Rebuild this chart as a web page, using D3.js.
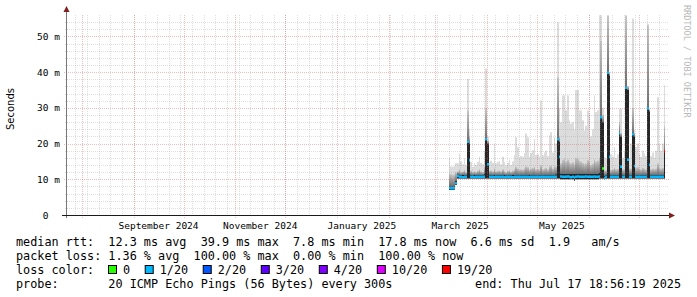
<!DOCTYPE html>
<html>
<head>
<meta charset="utf-8">
<script src="https://cdn.jsdelivr.net/npm/d3@7"></script>
<style>
body { margin: 0; background: #fff; }
svg text { font-family: "DejaVu Sans Mono", monospace; white-space: pre; }
</style>
</head>
<body>
<svg id="chart" width="697" height="297"></svg>
<script>
// time window of the graph (last 360 days)
const chartEnd = new Date(Date.UTC(2025, 6, 17, 18, 56, 19));
const spanDays = 360;
// first day that has data, one value per day after that
const firstDay = new Date(Date.UTC(2025, 2, 9));

// median rtt per day (ms)
const medianMs = [
  7.6, 7.5, 7.5, 7.6, 8.9, 10.9, 10.7, 10.7, 10.6, 10.7,
  10.7, 20.5, 15.3, 10.7, 10.7, 10.6, 10.7, 10.7, 10.7, 10.7,
  10.7, 10.7, 21.2, 14.2, 10.7, 10.7, 10.7, 10.6, 10.7, 10.7,
  10.7, 10.7, 10.7, 10.6, 10.7, 10.7, 10.7, 10.7, 10.6, 10.7,
  10.7, 10.7, 10.7, 10.7, 10.7, 10.7, 10.7, 10.7, 10.6, 10.7,
  10.7, 10.7, 10.7, 10.7, 10.7, 10.7, 10.7, 10.7, 10.7, 10.7,
  10.7, 10.7, 10.7, 10.7, 10.7, 21.2, 16.3, 10.8, 10.7, 10.7,
  10.7, 10.8, 10.7, 10.6, 10.7, 10.5, 10.7, 10.8, 10.7, 10.7,
  10.7, 10.7, 10.8, 10.7, 10.7, 10.7, 10.7, 10.8, 10.7, 10.7,
  10.8, 27.4, 13.0, 10.3, 10.7, 39.8, 16.3, 10.7, 10.7, 10.7,
  10.7, 10.7, 22.9, 13.5, 10.7, 10.7, 35.6, 15.5, 10.7, 10.7,
  22.6, 13.7, 10.7, 10.7, 10.7, 10.7, 10.7, 10.7, 10.7, 29.8,
  14.1, 10.7, 10.7, 10.7, 10.7, 10.7, 10.7, 10.7, 10.7, 17.8
];

// lowest ping per day (ms)
const minMs = [
  7.0, 7.0, 7.0, 7.1, 8.4, 10.2, 10.2, 10.2, 10.2, 10.2,
  10.2, 10.2, 10.2, 10.2, 10.2, 10.2, 10.2, 10.2, 10.2, 10.2,
  10.2, 10.2, 10.2, 10.2, 10.2, 10.2, 10.2, 10.2, 10.2, 10.2,
  10.2, 10.2, 10.2, 10.2, 10.2, 10.2, 10.2, 10.2, 10.2, 10.2,
  10.2, 10.2, 10.2, 10.2, 10.2, 10.2, 10.2, 10.2, 10.2, 10.2,
  10.2, 10.2, 10.2, 10.2, 10.2, 10.2, 10.2, 10.2, 10.2, 10.2,
  10.2, 10.2, 10.2, 10.2, 10.2, 10.2, 10.2, 10.0, 10.0, 10.0,
  10.0, 10.0, 10.0, 10.0, 10.0, 9.6, 10.0, 10.0, 10.0, 10.0,
  10.0, 10.0, 10.0, 10.0, 10.0, 10.0, 10.0, 10.0, 10.0, 10.0,
  10.2, 10.2, 10.2, 10.0, 10.2, 10.2, 10.2, 10.2, 10.2, 10.2,
  10.2, 10.2, 10.2, 10.2, 10.2, 10.2, 10.2, 10.2, 10.2, 10.2,
  10.2, 10.2, 10.2, 10.2, 10.2, 10.2, 10.2, 10.2, 10.2, 10.2,
  10.2, 10.2, 10.2, 10.2, 10.2, 10.2, 10.2, 10.2, 10.2, 10.2
];

// top of the dense middle pings (dark smoke), ms
const coreMs = [
  8.2, 8.0, 8.0, 8.2, 9.5, 11.4, 11.2, 11.2, 11.2, 11.2,
  11.2, 20.6, 20.0, 11.2, 11.2, 11.2, 11.2, 11.2, 11.2, 11.2,
  11.2, 11.6, 21.4, 20.0, 11.2, 11.2, 11.2, 11.2, 11.2, 11.2,
  11.2, 11.2, 11.2, 11.2, 11.2, 11.2, 11.2, 11.2, 11.2, 11.2,
  11.2, 11.2, 11.2, 11.2, 11.2, 11.2, 11.2, 11.2, 11.2, 11.2,
  11.2, 11.2, 11.2, 11.2, 11.2, 11.2, 11.2, 11.2, 11.2, 11.2,
  11.2, 11.2, 11.2, 11.2, 11.4, 21.4, 20.5, 11.5, 11.5, 11.5,
  11.5, 11.5, 11.5, 11.5, 11.5, 11.5, 11.5, 11.5, 11.5, 11.5,
  11.5, 11.5, 11.5, 11.5, 11.5, 11.5, 11.5, 11.5, 11.5, 11.5,
  11.8, 27.6, 26.0, 11.0, 11.2, 40.0, 39.0, 11.2, 11.2, 11.2,
  11.2, 11.2, 23.2, 22.0, 11.2, 11.2, 35.8, 35.0, 11.2, 11.2,
  22.8, 22.0, 11.2, 11.2, 11.2, 11.2, 11.2, 11.2, 11.2, 30.0,
  29.0, 11.2, 11.2, 11.2, 11.2, 11.2, 11.2, 11.2, 11.2, 17.8
];

// top of the grey smoke, ms
const midMs = [
  11.5, 11.5, 11.2, 11.5, 12.0, 12.2, 12.8, 12.0, 12.2, 12.6,
  12.0, 29.3, 22.0, 12.4, 12.0, 12.3, 12.0, 12.4, 12.8, 12.2,
  12.0, 13.5, 30.0, 20.8, 12.3, 12.5, 12.2, 13.0, 12.2, 12.4,
  12.5, 12.2, 12.8, 12.3, 12.0, 12.3, 12.6, 12.1, 12.4, 12.8,
  13.5, 13.0, 12.6, 12.8, 12.7, 13.0, 13.6, 13.4, 12.7, 13.0,
  13.2, 13.5, 12.8, 12.9, 12.7, 14.0, 12.8, 13.0, 13.2, 12.8,
  13.6, 13.8, 13.0, 13.6, 13.5, 38.6, 22.0, 14.5, 15.5, 15.8,
  15.0, 15.6, 14.8, 14.5, 14.8, 14.2, 16.0, 15.8, 15.2, 15.0,
  14.6, 14.2, 14.5, 15.4, 15.0, 14.0, 14.4, 15.6, 15.0, 15.2,
  16.0, 48.8, 28.0, 12.5, 12.5, 55.8, 40.0, 12.6, 12.8, 13.2,
  12.8, 12.9, 26.0, 23.0, 12.8, 12.8, 55.8, 36.0, 13.0, 13.0,
  30.0, 23.0, 13.2, 13.4, 13.0, 12.8, 13.2, 13.0, 12.8, 53.0,
  29.5, 12.8, 13.0, 12.8, 13.0, 14.5, 13.2, 13.0, 13.2, 25.0
];

// highest ping per day (light smoke), ms
const maxMs = [
  15.9, 13.6, 13.5, 13.8, 14.5, 14.5, 17.2, 15.0, 14.2, 15.9,
  14.0, 38.1, 24.0, 14.9, 13.5, 14.6, 14.0, 14.9, 16.3, 14.6,
  14.2, 18.0, 41.0, 22.0, 14.8, 15.2, 14.6, 20.0, 14.5, 14.9,
  15.1, 14.2, 16.3, 14.8, 13.9, 14.6, 15.5, 14.0, 15.0, 16.8,
  21.8, 19.0, 15.9, 16.5, 16.3, 17.3, 22.8, 21.8, 16.3, 17.4,
  18.1, 21.2, 16.8, 17.0, 16.3, 32.0, 16.7, 17.5, 18.0, 16.5,
  22.3, 23.2, 17.5, 21.8, 20.0, 53.9, 30.0, 26.0, 33.5, 33.5,
  29.3, 33.5, 26.5, 25.6, 26.0, 24.0, 35.0, 35.0, 29.3, 29.3,
  26.5, 23.7, 25.0, 29.3, 28.4, 22.0, 24.0, 33.5, 28.8, 29.3,
  55.9, 55.9, 30.0, 16.3, 16.0, 55.9, 40.0, 17.0, 16.3, 19.0,
  16.0, 17.0, 29.8, 29.8, 16.0, 18.0, 55.9, 36.0, 16.0, 20.0,
  55.0, 24.0, 19.0, 20.0, 17.0, 16.3, 18.0, 17.2, 16.5, 53.5,
  30.0, 16.5, 17.5, 16.0, 18.0, 33.0, 20.0, 18.0, 20.0, 36.3
];

// lost pings (out of 20) per day, picks the colour of the median
const lossPings = [
  1, 1, 1, 1, 1, 1, 1, 1, 1, 1,  1, 1, 1, 1, 1, 1, 1, 1, 1, 1,
  1, 1, 1, 1, 1, 1, 1, 1, 1, 1,  1, 1, 1, 1, 1, 1, 1, 1, 1, 1,
  1, 1, 1, 1, 1, 1, 1, 1, 1, 1,  1, 1, 1, 1, 1, 1, 1, 1, 1, 1,
  1, 1, 1, 1, 1, 1, 1, 1, 1, 1,  1, 1, 1, 1, 1, 1, 1, 1, 1, 1,
  1, 1, 1, 1, 1, 1, 1, 1, 1, 1,  1, 1, 0, 1, 1, 1, 1, 1, 1, 1,
  1, 1, 1, 1, 1, 1, 1, 1, 1, 1,  1, 1, 1, 1, 1, 1, 1, 1, 1, 1,
  1, 1, 1, 1, 1, 1, 1, 1, 1, 19
];

// loss colour legend
const lossLabels = ["0", "1/20", "2/20", "3/20", "4/20", "10/20", "19/20"];
const lossLevels = [0, 1, 2, 3, 4, 10, 19];
const lossColors = ["#26ff00", "#00b8ff", "#0059ff", "#5e00ff", "#7e00ff", "#dd00ff", "#ff0000"];

// legend texts
const rttStats = ["12.3 ms avg", "39.9 ms max", "7.8 ms min", "17.8 ms now", "6.6 ms sd", "1.9   am/s"];
const lossStats = ["1.36 % avg", "100.00 % max", "0.00 % min", "100.00 % now"];
const probeText = "20 ICMP Echo Pings (56 Bytes) every 300s";
const endText = "end: Thu Jul 17 18:56:19 2025";

const yTicks = [0, 10, 20, 30, 40, 50];

//////// Scales ////////
const svg = d3.select("#chart");
const plot = { left: 66.5, right: 666.5, top: 15, bottom: 215 };
const chartStart = d3.utcDay.offset(chartEnd, -spanDays);

const x = d3.scaleUtc().domain([chartStart, chartEnd]).range([plot.left, plot.right]);
const y = d3.scaleLinear().domain([0, 56]).range([plot.bottom, plot.top]);

const days = medianMs.map((m, i) => ({
    t0: d3.utcDay.offset(firstDay, i),
    t1: d3.utcDay.offset(firstDay, i + 1),
    med: m, lo: minMs[i], core: coreMs[i], mid: midMs[i], hi: maxMs[i], loss: lossPings[i]
}));
const px = t => Math.round(x(t));

function lossColor(n) {
    let c = lossColors[0];
    lossLevels.forEach((l, i) => { if (n >= l) c = lossColors[i]; });
    return c;
}

//////// Smoke ////////
const defs = svg.append("defs");
const grad = defs.append("linearGradient")
    .attr("id", "smokeGrad")
    .attr("x1", 0).attr("x2", 0).attr("y1", 1).attr("y2", 0);
grad.append("stop").attr("offset", 0).attr("stop-color", "#6e6e6e");
grad.append("stop").attr("offset", 1).attr("stop-color", "#c6c6c6");

const smoke = svg.append("g").attr("class", "smoke");

// light smoke: min .. max
smoke.selectAll("rect.light")
    .data(days).join("rect")
    .attr("class", "light")
    .attr("x", d => px(d.t0))
    .attr("width", d => px(d.t1) - px(d.t0))
    .attr("y", d => y(d.hi))
    .attr("height", d => y(d.lo) - y(d.hi))
    .attr("fill", "#dcdcdc");

// grey smoke: core .. mid
smoke.selectAll("rect.mid")
    .data(days).join("rect")
    .attr("class", "mid")
    .attr("x", d => px(d.t0))
    .attr("width", d => px(d.t1) - px(d.t0))
    .attr("y", d => y(d.mid))
    .attr("height", d => Math.max(0, y(d.core) - y(d.mid)))
    .attr("fill", "url(#smokeGrad)");

// dark core: min .. core
smoke.selectAll("rect.core")
    .data(days).join("rect")
    .attr("class", "core")
    .attr("x", d => px(d.t0))
    .attr("width", d => px(d.t1) - px(d.t0))
    .attr("y", d => y(d.core))
    .attr("height", d => y(d.lo) - y(d.core))
    .attr("fill", "#262626");

//////// Grid ////////
const grid = svg.append("g").attr("class", "grid").attr("shape-rendering", "crispEdges");
const minorColor = "rgba(140,140,140,0.28)";
const majorColor = "rgba(222,79,79,0.38)";

const hMinor = d3.range(2, 56, 2).filter(v => v % 10 !== 0);
grid.selectAll("line.hminor")
    .data(hMinor).join("line")
    .attr("x1", plot.left - 2).attr("x2", plot.right + 2)
    .attr("y1", d => Math.round(y(d)) + 0.5).attr("y2", d => Math.round(y(d)) + 0.5)
    .attr("stroke", minorColor).attr("stroke-dasharray", "1,1");

const weeks = d3.utcSunday.range(chartStart, chartEnd);
grid.selectAll("line.vminor")
    .data(weeks).join("line")
    .attr("x1", d => px(d) + 0.5).attr("x2", d => px(d) + 0.5)
    .attr("y1", plot.top).attr("y2", plot.bottom + 2)
    .attr("stroke", minorColor).attr("stroke-dasharray", "1,1");

grid.selectAll("line.hmajor")
    .data(yTicks.filter(v => v > 0)).join("line")
    .attr("x1", plot.left - 3).attr("x2", plot.right + 2)
    .attr("y1", d => Math.round(y(d)) + 0.5).attr("y2", d => Math.round(y(d)) + 0.5)
    .attr("stroke", majorColor).attr("stroke-dasharray", "1,1");

const months = d3.utcMonth.range(chartStart, chartEnd);
grid.selectAll("line.vmajor")
    .data(months).join("line")
    .attr("x1", d => px(d) + 0.5).attr("x2", d => px(d) + 0.5)
    .attr("y1", plot.top).attr("y2", plot.bottom + 3)
    .attr("stroke", majorColor).attr("stroke-dasharray", "1,1");

//////// Median line ////////
svg.append("g").attr("class", "median")
    .selectAll("line")
    .data(days).join("line")
    .attr("x1", d => px(d.t0)).attr("x2", d => px(d.t1))
    .attr("y1", d => y(d.med)).attr("y2", d => y(d.med))
    .attr("stroke", d => lossColor(d.loss))
    .attr("stroke-width", 2.5);

//////// Axes ////////
const axes = svg.append("g").attr("class", "axes");
axes.append("line")
    .attr("x1", 66.5).attr("x2", 66.5).attr("y1", plot.bottom + 3).attr("y2", 10)
    .attr("stroke", "#777");
axes.append("line")
    .attr("x1", 62).attr("x2", 670).attr("y1", plot.bottom + 0.5).attr("y2", plot.bottom + 0.5)
    .attr("stroke", "#1a1a1a");
axes.append("path")
    .attr("d", "M63.5,12 L66.5,6 L69.5,12 Z")
    .attr("fill", "#801f1f");
axes.append("path")
    .attr("d", "M669,212.5 L675,215.5 L669,218.5 Z")
    .attr("fill", "#801f1f");

// y tick labels
axes.selectAll("text.ytick")
    .data(yTicks).join("text")
    .attr("class", "ytick")
    .attr("x", 60)
    .attr("y", d => y(d) + 3.5)
    .attr("text-anchor", "end")
    .attr("font-size", "9.5px")
    .attr("fill", "#000")
    .text(d => d === 0 ? "0  " : d + " m");

// month labels, centred half a month after the month start
const labelMonths = d3.utcMonth.every(2).range(chartStart, chartEnd)
    .filter(m => d3.utcMonth.offset(m, 1) <= chartEnd);
axes.selectAll("text.xtick")
    .data(labelMonths).join("text")
    .attr("class", "xtick")
    .attr("x", d => x(d3.utcDay.offset(d, 15)))
    .attr("y", 228.5)
    .attr("text-anchor", "middle")
    .attr("font-size", "9.5px")
    .text(d => d3.utcFormat("%B %Y")(d));

// y axis title
svg.append("text")
    .attr("transform", "translate(14,109) rotate(-90)")
    .attr("text-anchor", "middle")
    .attr("font-size", "10px")
    .style("font-family", "'DejaVu Sans', sans-serif")
    .text("Seconds");

// watermark
svg.append("text")
    .attr("transform", "translate(684,5) rotate(90)")
    .attr("font-size", "8.5px")
    .attr("fill", "#b8b8b8")
    .text("RRDTOOL / TOBI OETIKER");

//////// Legend ////////
const legend = svg.append("g").attr("class", "legend").attr("font-size", "11.8px");
legend.append("text").attr("x", 16).attr("y", 245.5)
    .text("median rtt:  " + rttStats.join("  "));
legend.append("text").attr("x", 16).attr("y", 259.5)
    .text("packet loss: " + lossStats.join("  "));
legend.append("text").attr("x", 16).attr("y", 273.5)
    .text("loss color:");
legend.append("text").attr("x", 16).attr("y", 287.5)
    .text("probe:       " + probeText);
legend.append("text").attr("x", 681).attr("y", 287.5)
    .attr("text-anchor", "end")
    .text(endText);

let lx = 108;
lossLabels.forEach((lab, i) => {
    legend.append("rect")
        .attr("x", lx + 0.5).attr("y", 265.5)
        .attr("width", 8).attr("height", 8)
        .attr("fill", lossColors[i])
        .attr("stroke", "#000");
    const t = legend.append("text")
        .attr("x", lx + 15).attr("y", 273.5)
        .text(lab);
    lx = lx + 15 + t.node().getComputedTextLength() + 14.6;
});
</script>
</body>
</html>
